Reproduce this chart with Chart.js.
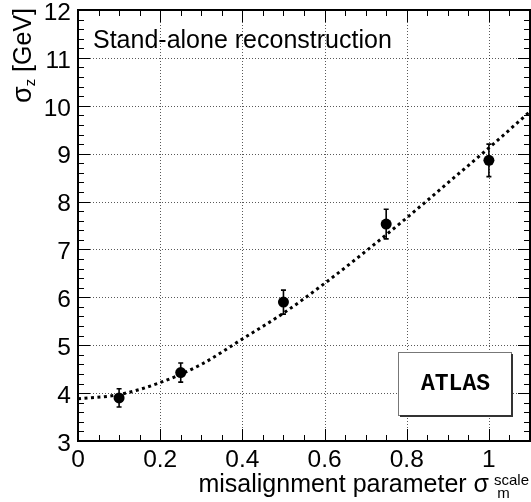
<!DOCTYPE html>
<html>
<head>
<meta charset="utf-8">
<script src="https://cdn.jsdelivr.net/npm/chart.js"></script>
<style>
  html, body { margin: 0; padding: 0; background: #fff; }
  #wrap { width: 531px; height: 502px; }
</style>
</head>
<body>
<div id="wrap"><canvas id="chart" width="531" height="502"></canvas></div>
<script>
// measured points (misalignment scale -> sigma_z)
const misalign = [0.1, 0.25, 0.5, 0.75, 1.0]
const sigmaZ = [3.90, 4.43, 5.90, 7.53, 8.86]
const sigmaErr = [0.19, 0.20, 0.25, 0.31, 0.34]

// fitted curve
const fitX = [0, 0.1, 0.2, 0.3, 0.4, 0.5, 0.6, 0.7, 0.8, 0.9, 1.0, 1.1]
const fitY = [3.88, 3.97, 4.22, 4.60, 5.13, 5.67, 6.29, 6.96, 7.66, 8.39, 9.12, 9.88]

const xTicks = [0, 0.2, 0.4, 0.6, 0.8, 1.0]
const yTicks = [3, 4, 5, 6, 7, 8, 9, 10, 11, 12]

const FONT = '"Liberation Sans", Arial, Helvetica, sans-serif'

// grid, ATLAS box, frame, ticks, titles, error bars
const rootStyle = {
  id: 'rootStyle',
  beforeDatasetsDraw (chart) {
    const { ctx, chartArea: a, scales: { x, y } } = chart
    ctx.save()
    ctx.strokeStyle = 'rgba(0,0,0,0.65)'
    ctx.lineWidth = 1
    ctx.setLineDash([1, 2])
    xTicks.forEach(v => {
      const px = Math.round(x.getPixelForValue(v)) + 0.5
      ctx.beginPath(); ctx.moveTo(px, a.top); ctx.lineTo(px, a.bottom); ctx.stroke()
    })
    yTicks.forEach(v => {
      const py = Math.round(y.getPixelForValue(v)) + 0.5
      ctx.beginPath(); ctx.moveTo(a.left, py); ctx.lineTo(a.right, py); ctx.stroke()
    })
    ctx.setLineDash([])

    // ATLAS label box
    const bx = 398, by = 352, bw = 113, bh = 63
    ctx.fillStyle = '#fff'
    ctx.fillRect(bx, by, bw, bh)
    ctx.strokeStyle = '#777'
    ctx.lineWidth = 1
    ctx.strokeRect(bx + 0.5, by + 0.5, bw, bh)
    ctx.strokeStyle = '#333'
    ctx.lineWidth = 2
    ctx.beginPath()
    ctx.moveTo(bx + bw + 1, by + 2); ctx.lineTo(bx + bw + 1, by + bh + 1); ctx.lineTo(bx + 2, by + bh + 1)
    ctx.stroke()
    ctx.fillStyle = '#000'
    ctx.font = 'bold 23px "Liberation Mono", "Courier New", monospace'
    ctx.textAlign = 'center'
    ctx.textBaseline = 'middle'
    ctx.fillText('ATLAS', bx + bw / 2 + 1, by + bh / 2 + 1)
    ctx.restore()
  },
  afterDatasetsDraw (chart) {
    const { ctx, scales: { x, y } } = chart
    ctx.save()
    ctx.strokeStyle = '#000'
    ctx.lineWidth = 1.6
    misalign.forEach((m, i) => {
      const px = x.getPixelForValue(m)
      const top = y.getPixelForValue(sigmaZ[i] + sigmaErr[i])
      const bot = y.getPixelForValue(sigmaZ[i] - sigmaErr[i])
      ctx.beginPath()
      ctx.moveTo(px, top); ctx.lineTo(px, bot)
      ctx.moveTo(px - 2.5, top); ctx.lineTo(px + 2.5, top)
      ctx.moveTo(px - 2.5, bot); ctx.lineTo(px + 2.5, bot)
      ctx.stroke()
    })
    ctx.restore()
  },
  afterDraw (chart) {
    const { ctx, chartArea: a, scales: { x, y } } = chart
    ctx.save()
    ctx.strokeStyle = '#000'
    ctx.lineWidth = 1
    // x ticks (bottom and top)
    for (let k = 0; k <= 22; k++) {
      const v = k * 0.05
      const major = k % 4 === 0
      const len = major ? 12 : 6
      const px = Math.round(x.getPixelForValue(v)) + 0.5
      ctx.beginPath()
      ctx.moveTo(px, a.bottom); ctx.lineTo(px, a.bottom - len)
      ctx.moveTo(px, a.top); ctx.lineTo(px, a.top + len)
      ctx.stroke()
    }
    // y ticks (left and right)
    for (let k = 0; k <= 45; k++) {
      const v = 3 + k * 0.2
      const major = k % 5 === 0
      const len = major ? 12 : 6
      const py = Math.round(y.getPixelForValue(v)) + 0.5
      ctx.beginPath()
      ctx.moveTo(a.left, py); ctx.lineTo(a.left + len, py)
      ctx.moveTo(a.right, py); ctx.lineTo(a.right - len, py)
      ctx.stroke()
    }
    // frame
    ctx.lineWidth = 2
    ctx.strokeRect(a.left, a.top, a.right - a.left, a.bottom - a.top)

    // inside text
    ctx.fillStyle = '#000'
    ctx.textBaseline = 'alphabetic'
    ctx.textAlign = 'left'
    ctx.font = '25px ' + FONT
    ctx.fillText('Stand-alone reconstruction', 93, 48)

    // x title, right aligned to axis end
    const big = '25px ' + FONT
    const small = '15px ' + FONT
    ctx.font = big
    const main = 'misalignment parameter \u03c3'
    const wMain = ctx.measureText(main).width
    ctx.font = small
    const wSup = ctx.measureText('scale').width
    const wSub = ctx.measureText('m').width
    const xEnd = a.right - 1
    const xScript = xEnd - wSup
    ctx.font = big
    ctx.fillText(main, xScript - 5 - wMain, 492)
    ctx.font = small
    ctx.fillText('scale', xScript, 485)
    ctx.fillText('m', xScript + (wSup - wSub) / 2 - 8, 498)

    // y title, rotated, ending at top of axis
    ctx.translate(31, 0)
    ctx.rotate(-Math.PI / 2)
    ctx.font = '27px ' + FONT
    const wSig = ctx.measureText('\u03c3').width
    ctx.font = big
    const wRest = ctx.measureText(' [GeV]').width
    ctx.font = small
    const wZ = ctx.measureText('z').width
    const total = wSig + wZ + wRest
    let tx = -(8 + total)
    ctx.font = '27px ' + FONT
    ctx.fillText('\u03c3', tx, 0)
    tx += wSig
    ctx.font = small
    ctx.fillText('z', tx, 4)
    tx += wZ
    ctx.font = big
    ctx.fillText(' [GeV]', tx, 0)
    ctx.restore()
  }
}

new Chart(document.getElementById('chart'), {
  type: 'scatter',
  data: {
    datasets: [
      {
        label: 'data',
        data: misalign.map((m, i) => ({ x: m, y: sigmaZ[i] })),
        pointRadius: 5.5,
        pointBackgroundColor: '#000',
        pointBorderColor: '#000',
        pointBorderWidth: 0,
        showLine: false,
        order: 0
      },
      {
        label: 'fit',
        data: fitX.map((v, i) => ({ x: v, y: fitY[i] })),
        showLine: true,
        pointRadius: 0,
        borderColor: '#000',
        borderWidth: 3,
        borderDash: [3, 3.5],
        cubicInterpolationMode: 'monotone',
        fill: false,
        order: 1
      }
    ]
  },
  options: {
    responsive: false,
    animation: false,
    devicePixelRatio: 1,
    layout: { autoPadding: false, padding: { top: 10, right: 1, left: 0, bottom: 0 } },
    plugins: { legend: { display: false }, tooltip: { enabled: false } },
    scales: {
      x: {
        type: 'linear',
        min: 0,
        max: 1.1,
        afterFit (s) { s.height = 61; s.paddingLeft = 0; s.paddingRight = 0 },
        afterBuildTicks (s) { s.ticks = xTicks.map(v => ({ value: v })) },
        grid: { display: false, drawTicks: false },
        border: { display: false },
        ticks: {
          color: '#000',
          padding: 5,
          maxRotation: 0,
          font: { family: FONT, size: 24.5 },
          callback: v => String(+v.toFixed(1))
        }
      },
      y: {
        type: 'linear',
        min: 3,
        max: 12,
        afterFit (s) { s.width = 78; s.paddingTop = 0; s.paddingBottom = 0 },
        afterBuildTicks (s) { s.ticks = yTicks.map(v => ({ value: v })) },
        grid: { display: false, drawTicks: false },
        border: { display: false },
        ticks: {
          color: '#000',
          padding: 7,
          labelOffset: 3,
          font: { family: FONT, size: 24.5 },
          callback: v => String(v)
        }
      }
    }
  },
  plugins: [rootStyle]
})
</script>
</body>
</html>
